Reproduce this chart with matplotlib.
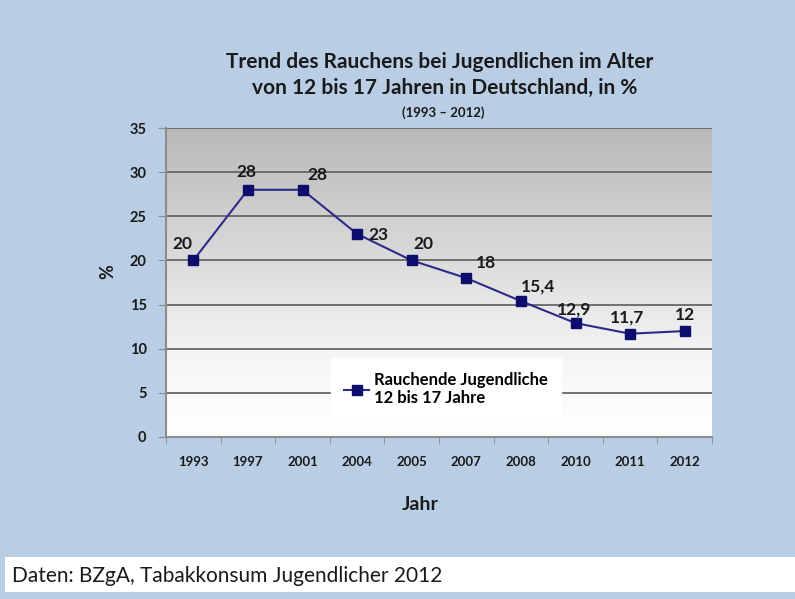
import numpy as np
import matplotlib
matplotlib.use('Agg')
import matplotlib.pyplot as plt
from matplotlib.colors import LinearSegmentedColormap

years = ['1993', '1997', '2001', '2004', '2005', '2007', '2008', '2010', '2011', '2012']
values = [20, 28, 28, 23, 20, 18, 15.4, 12.9, 11.7, 12]
value_labels = ['20', '28', '28', '23', '20', '18', '15,4', '12,9', '11,7', '12']
# label offsets in pixels (dx, dy)
label_offsets = [(-11, 16), (-2, 18), (15, 15), (21, -1), (12, 16),
                 (20, 15), (17, 15), (-1, 14), (-3, 16), (0, 16)]

plt.rcParams['font.family'] = ['Lato', 'DejaVu Sans']
W, H = 795, 599
fig = plt.figure(figsize=(W/100, H/100), dpi=100, facecolor='#b9cde5')

# axes box in pixels
x0, x1, y0, y1 = 166, 712, 128, 437
ax = fig.add_axes([x0/W, 1-y1/H, (x1-x0)/W, (y1-y0)/H])
ax.set_facecolor('white')

x = np.arange(len(years))
ax.set_xlim(-0.5, len(years)-0.5)
ax.set_ylim(0, 35)

# gradient background
cmap = LinearSegmentedColormap.from_list('g', [(0, '#ffffff'), (0.25, '#f6f6f6'), (1, '#b8b8b8')])
grad = np.linspace(0, 1, 256).reshape(-1, 1)
ax.imshow(grad, cmap=cmap, aspect='auto', origin='lower',
          extent=[-0.5, len(years)-0.5, 0, 35], zorder=0)

for yv in range(5, 36, 5):
    ax.axhline(yv, color='#666666', lw=1.3, zorder=1)

ax.plot(x, values, color='#2d2a8a', lw=1.5, marker='s', markersize=7,
        markerfacecolor='#0d0d6e', markeredgecolor='#0d0d6e', zorder=3,
        label='Rauchende Jugendliche\n12 bis 17 Jahre')

for xi, v, lab, off in zip(x, values, value_labels, label_offsets):
    ax.annotate(lab, (xi, v), xytext=off, textcoords='offset pixels',
                ha='center', va='center', fontsize=12.5, fontweight='bold', color='#1a1a1a')

ax.set_xticks(x)
ax.set_xticklabels(years, fontsize=9.5, fontweight='bold', color='#1a1a1a')
ax.set_xticks(np.arange(-0.5, len(years)), minor=True)
ax.tick_params(axis='x', which='major', length=0, pad=14)
ax.tick_params(axis='x', which='minor', length=5, color='#8c8c8c')
ax.set_yticks(range(0, 36, 5))
ax.set_yticklabels([str(v) for v in range(0, 36, 5)], fontsize=10.5, fontweight='bold', color='#1a1a1a')
ax.tick_params(axis='y', length=6, color='#8c8c8c', pad=8)

for s in ['top', 'right']:
    ax.spines[s].set_visible(False)
for s in ['left', 'bottom']:
    ax.spines[s].set_color('#8c8c8c')
    ax.spines[s].set_linewidth(1.5)

leg = ax.legend(loc='center', bbox_to_anchor=(0.513, 0.155), frameon=True,
                fancybox=False, facecolor='white', edgecolor='white', framealpha=1,
                prop={'weight': 'bold', 'size': 12}, handlelength=1.5,
                handletextpad=0.3, borderpad=0.8, labelspacing=0.6)
leg.set_zorder(4)

fig.text(440/W, 1-62/H, 'Trend des Rauchens bei Jugendlichen im Alter', ha='center', va='center',
         fontsize=15, fontweight='bold', color='#1a1a1a')
fig.text(445/W, 1-88/H, 'von 12 bis 17 Jahren in Deutschland, in %', ha='center', va='center',
         fontsize=15, fontweight='bold', color='#1a1a1a')
fig.text(443/W, 1-113/H, '(1993 \u2013 2012)', ha='center', va='center',
         fontsize=9.5, fontweight='bold', color='#1a1a1a')
fig.text(108/W, 1-272/H, '%', ha='center', va='center', rotation=90,
         fontsize=13, fontweight='bold', color='#1a1a1a')
fig.text(420/W, 1-505/H, 'Jahr', ha='center', va='center',
         fontsize=14, fontweight='bold', color='#1a1a1a')

# footer box
fig.patches.append(plt.Rectangle((5/W, 1-592/H), 790/W, 35/H, transform=fig.transFigure,
                                 facecolor='white', edgecolor='none', zorder=0))
fig.text(12/W, 1-576/H, 'Daten: BZgA, Tabakkonsum Jugendlicher 2012', ha='left', va='center',
         fontsize=15, color='#1a1a1a')

fig.savefig('out.png', dpi=100, facecolor=fig.get_facecolor())
